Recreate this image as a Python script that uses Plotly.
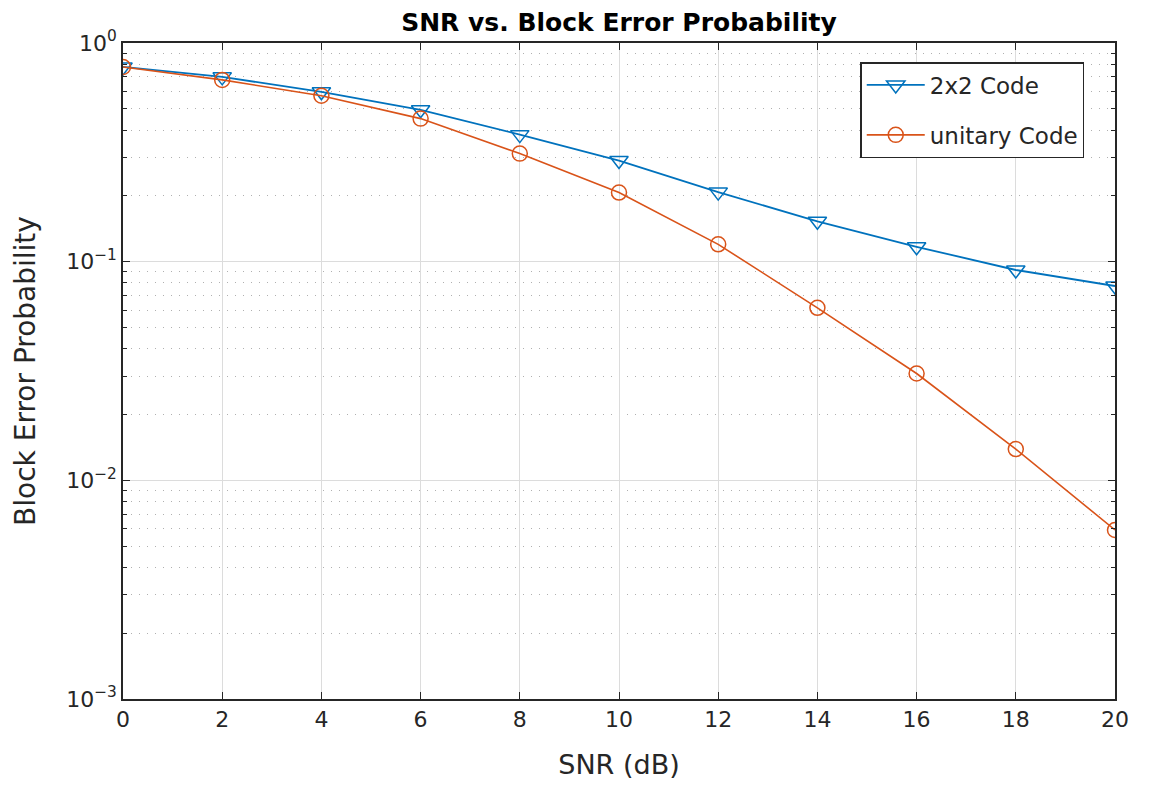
import plotly.graph_objects as go

snr_db = [0, 2, 4, 6, 8, 10, 12, 14, 16, 18, 20]
code_2x2 = [0.777, 0.70, 0.598, 0.495, 0.381, 0.290, 0.208, 0.153, 0.117, 0.0916, 0.0774]
unitary_code = [0.777, 0.678, 0.574, 0.451, 0.312, 0.207, 0.120, 0.0615, 0.0308, 0.0139, 0.00593]

x_ticks = [0, 2, 4, 6, 8, 10, 12, 14, 16, 18, 20]
y_tickvals = [1, 0.1, 0.01, 0.001]
y_ticktext = ["10<sup>0</sup>", "10<sup>−1</sup>", "10<sup>−2</sup>", "10<sup>−3</sup>"]

BLUE = "#0072BD"
ORANGE = "#D95319"
FONT = "DejaVu Sans"
AXC = "#262626"

fig = go.Figure()
fig.add_trace(go.Scatter(
    x=snr_db, y=code_2x2, name="2x2 Code", mode="lines+markers",
    line=dict(color=BLUE, width=1.8), legendgroup="a",
    marker=dict(symbol="triangle-down-open", size=16, color=BLUE, line=dict(width=1.5, color=BLUE)),
))
fig.add_trace(go.Scatter(
    x=snr_db, y=unitary_code, name="unitary Code", mode="lines+markers",
    line=dict(color=ORANGE, width=1.6), legendgroup="b",
    marker=dict(symbol="circle-open", size=15, color=ORANGE, line=dict(width=1.5, color=ORANGE)),
))

fig.update_layout(
    width=1141, height=779,
    margin=dict(l=115, r=34, t=35, b=86),
    paper_bgcolor="white", plot_bgcolor="white",
    font=dict(family=FONT, color=AXC, size=22),
    title=dict(text="<b>SNR vs. Block Error Probability</b>", x=0.5, xref="paper", xanchor="center",
               y=0.982, yanchor="middle", yref="container",
               font=dict(family=FONT, size=25, color="#000000")),
    showlegend=True,
    legend=dict(x=0.969, xanchor="right", y=0.971, yanchor="top",
                bgcolor="white", bordercolor=AXC, borderwidth=1.5,
                font=dict(family=FONT, size=23, color=AXC), itemwidth=58,
                traceorder="grouped", tracegroupgap=17),
)

fig.update_xaxes(
    range=[0, 20], tickmode="array", tickvals=x_ticks,
    ticks="inside", ticklen=7, tickcolor=AXC, tickwidth=1,
    showline=True, linecolor=AXC, linewidth=1.5, mirror="allticks",
    showgrid=True, gridcolor="#dcdcdc", gridwidth=1,
    zeroline=False,
    tickfont=dict(family=FONT, size=22, color=AXC),
    title=dict(text="SNR (dB)", font=dict(family=FONT, size=27, color=AXC), standoff=24),
)
fig.update_yaxes(
    type="log", range=[-3, 0], tickmode="array", tickvals=y_tickvals, ticktext=y_ticktext,
    ticks="inside", ticklen=7, tickcolor=AXC, tickwidth=1,
    showline=True, linecolor=AXC, linewidth=1.5, mirror="allticks",
    showgrid=True, gridcolor="#dcdcdc", gridwidth=1,
    zeroline=False,
    minor=dict(ticks="inside", ticklen=4, tickcolor=AXC, dtick="D1",
               showgrid=True, gridcolor="#b0b0b0", gridwidth=1, griddash="1px,7px"),
    tickfont=dict(family=FONT, size=22, color=AXC),
    title=dict(text="Block Error Probability", font=dict(family=FONT, size=28, color=AXC), standoff=22),
)

fig.write_html("out.html")
